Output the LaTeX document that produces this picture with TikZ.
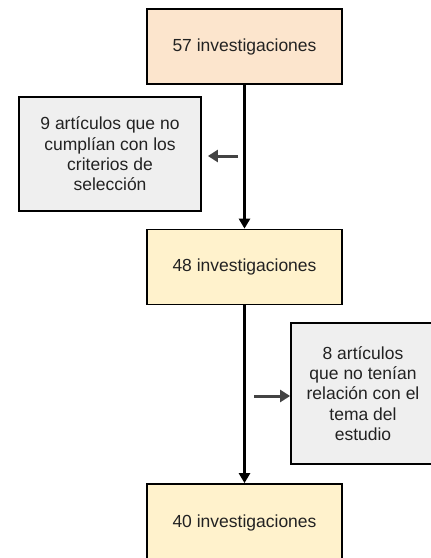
\documentclass[tikz,border=0pt]{standalone}
\usepackage{fontspec}
\setmainfont{Liberation Sans}
\usetikzlibrary{arrows.meta}
\definecolor{peach}{HTML}{FCE5CD}
\definecolor{cream}{HTML}{FFF2CC}
\definecolor{lightgray}{HTML}{EFEFEF}
\definecolor{inkgray}{HTML}{434343}
\definecolor{textdark}{HTML}{222222}
\begin{document}
\begin{tikzpicture}[x=1pt,y=-1pt,
	box/.style={draw=black,line width=1.8pt,text=textdark,align=center,
		font=\fontsize{17.5}{20.3}\selectfont,inner sep=0pt},
	stagebox/.style={box,minimum width=195pt,minimum height=75pt},
	flow/.style={-{Triangle[length=10pt,width=11pt]},line width=3pt},
	side/.style={-{Triangle[length=10pt,width=12pt]},line width=3pt,draw=inkgray}]
				% PRISMA-style selection flow
				\useasboundingbox (0,0) rectangle (431,558);
				\node[stagebox,fill=peach] (Found) at (244.5,46.5) {57 investigaciones};
				\node[box,fill=lightgray,minimum width=182pt,minimum height=114pt] (Excluded) at (110,154) {9 artículos que no\\cumplían con los\\criterios de\\selección};
				\node[stagebox,fill=cream] (Screened) at (244.5,267) {48 investigaciones};
				\node[box,fill=lightgray,minimum width=144pt,minimum height=141pt] (Unrelated) at (363,393.5) {8 artículos\\que no tenían\\relación con el\\tema del\\estudio};
				\node[stagebox,fill=cream,minimum height=78pt] (Included) at (244.5,523) {40 investigaciones};
				
				\coordinate (ExcludedStart) at (238,156);
				\coordinate (UnrelatedStart) at (254,396);
				
				\draw[flow] (Found) to (Screened);
				\draw[flow] (Screened) to (Included);
				\draw[side,shorten >=6pt] (ExcludedStart) to (ExcludedStart -| Excluded.east);
				\draw[side] (UnrelatedStart) to (UnrelatedStart -| Unrelated.west);
				
				\end{tikzpicture}
\end{document}
